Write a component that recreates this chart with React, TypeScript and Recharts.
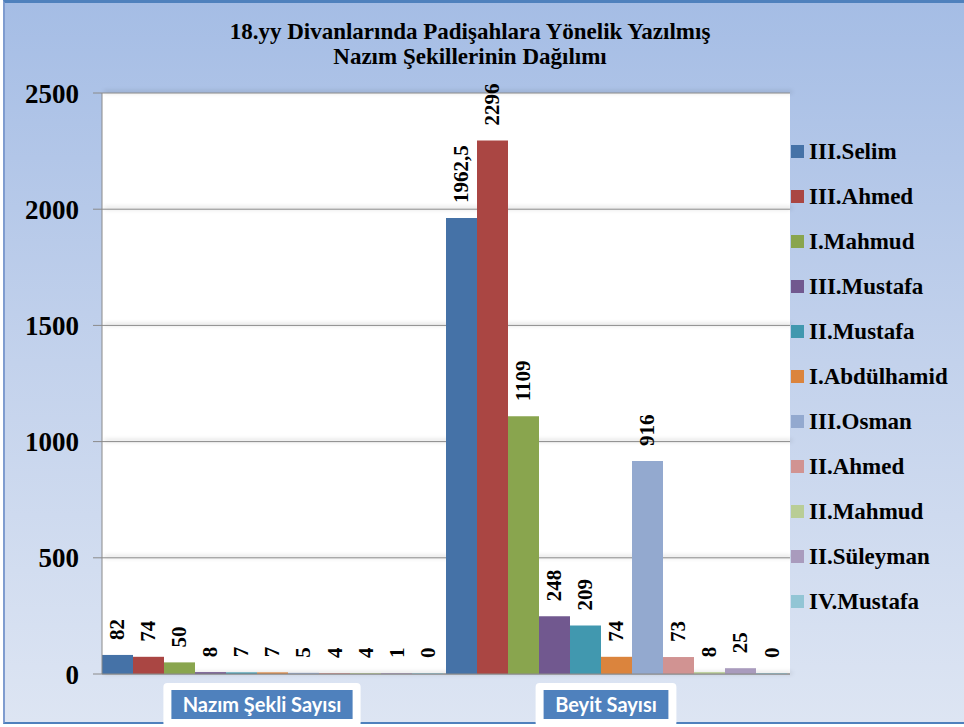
import React from "react";
import {
  BarChart,
  Bar,
  XAxis,
  YAxis,
  CartesianGrid,
  LabelList,
} from "recharts";

const categories = ["Nazım Şekli Sayısı", "Beyit Sayısı"];

const sultans = [
  "III.Selim",
  "III.Ahmed",
  "I.Mahmud",
  "III.Mustafa",
  "II.Mustafa",
  "I.Abdülhamid",
  "III.Osman",
  "II.Ahmed",
  "II.Mahmud",
  "II.Süleyman",
  "IV.Mustafa",
];

const nazimValues = [82, 74, 50, 8, 7, 7, 5, 4, 4, 1, 0];
const beyitValues = [1962.5, 2296, 1109, 248, 209, 74, 916, 73, 8, 25, 0];

const colors = [
  "#4572A7",
  "#AA4643",
  "#89A54E",
  "#71588F",
  "#4198AF",
  "#DB843D",
  "#93A9CF",
  "#D19392",
  "#B9CD96",
  "#A99BBD",
  "#92C5D5",
];

const yTicks = [0, 500, 1000, 1500, 2000, 2500];

const serif = "Liberation Serif";

// keys without dots, recharts treats dots as paths
const data = categories.map((category, ci) => {
  const row: { [key: string]: string | number } = { category };
  sultans.forEach((_, i) => {
    row["s" + i] = ci === 0 ? nazimValues[i] : beyitValues[i];
  });
  return row;
});

const fmt = (v: number) => String(v).replace(".", ",");

const ValueLabel = (props: any) => {
  const { x, y, width, value } = props;
  const cx = x + width / 2;
  const ty = y - 15;
  return (
    <text
      x={cx}
      y={ty}
      transform={`rotate(-90, ${cx}, ${ty})`}
      textAnchor="start"
      dominantBaseline="central"
      style={{ fontFamily: serif, fontWeight: "bold", fontSize: 21 }}
      fill="#000"
    >
      {fmt(value)}
    </text>
  );
};

const CategoryTick = (props: any) => {
  const { x, y, payload } = props;
  const label: string = payload.value;
  const w = label.length * 9.4 + 12;
  const cx = x - 12;
  return (
    <g>
      <rect x={cx - w / 2 - 8} y={y + 9} width={w + 16} height={44} rx={4} fill="#fff" />
      <rect x={cx - w / 2} y={y + 16} width={w} height={29} fill="#4F81BD" />
      <text
        x={cx}
        y={y + 38}
        textAnchor="middle"
        fill="#fff"
        style={{ fontFamily: "Lato", fontWeight: "bold", fontSize: 20 }}
      >
        {label}
      </text>
    </g>
  );
};

const App: React.FC = () => {
  return (
    <div
      style={{
        position: "fixed",
        left: 0,
        top: 0,
        width: 964,
        height: 727,
        background: "#fff",
        overflow: "hidden",
      }}
    >
      {/* frame with gradient */}
      <div
        style={{
          position: "absolute",
          left: 3,
          top: 0,
          width: 961,
          height: 724,
          boxSizing: "border-box",
          borderTop: "3px solid #4F81BD",
          borderLeft: "2px solid #7f9ccf",
          borderBottom: "2px solid #4F81BD",
          background: "linear-gradient(to bottom, #A5BDE5 0%, #C3D2EC 50%, #DDE5F3 100%)",
        }}
      />
      <div
        style={{
          position: "absolute",
          left: 0,
          top: 19,
          width: 940,
          textAlign: "center",
          fontFamily: serif,
          fontWeight: "bold",
          fontSize: 23,
          lineHeight: "25px",
          color: "#000",
        }}
      >
        18.yy Divanlarında Padişahlara Yönelik Yazılmış
        <br />
        Nazım Şekillerinin Dağılımı
      </div>

      <div style={{ position: "absolute", left: 0, top: 0 }}>
        <BarChart
          width={964}
          height={727}
          data={data}
          margin={{ top: 93, right: 174, left: 0, bottom: 0 }}
          barCategoryGap={0}
          barGap={0}
        >
          <CartesianGrid
            vertical={false}
            stroke="#8a8a8a"
            fill="#fff"
            style={{ filter: "drop-shadow(2px -1px 2px rgba(0,0,0,0.35))" }}
          />
          <XAxis
            dataKey="category"
            height={53}
            tickLine={false}
            tickSize={0}
            tickMargin={0}
            axisLine={{ stroke: "#8a8a8a" }}
            tick={<CategoryTick />}
          />
          <YAxis
            width={102}
            domain={[0, 2500]}
            ticks={yTicks}
            tickSize={9}
            tickMargin={14}
            axisLine={{ stroke: "#8a8a8a" }}
            tickLine={{ stroke: "#8a8a8a" }}
            tick={{ style: { fontFamily: serif, fontWeight: "bold", fontSize: 27 }, fill: "#000" }}
          />
          {sultans.map((s, i) => (
            <Bar
              key={s}
              dataKey={"s" + i}
              name={s}
              fill={colors[i]}
              minPointSize={1}
              isAnimationActive={false}
            >
              <LabelList dataKey={"s" + i} content={<ValueLabel />} />
            </Bar>
          ))}
        </BarChart>
      </div>

      {/* legend */}
      <div style={{ position: "absolute", left: 791, top: 129 }}>
        {sultans.map((s, i) => (
          <div
            key={s}
            style={{
              display: "flex",
              alignItems: "center",
              height: 45,
              fontFamily: serif,
              fontWeight: "bold",
              fontSize: 23,
              color: "#000",
            }}
          >
            <span
              style={{
                display: "inline-block",
                width: 13,
                height: 13,
                background: colors[i],
                marginRight: 5,
              }}
            />
            {s}
          </div>
        ))}
      </div>
    </div>
  );
};

export default App;
